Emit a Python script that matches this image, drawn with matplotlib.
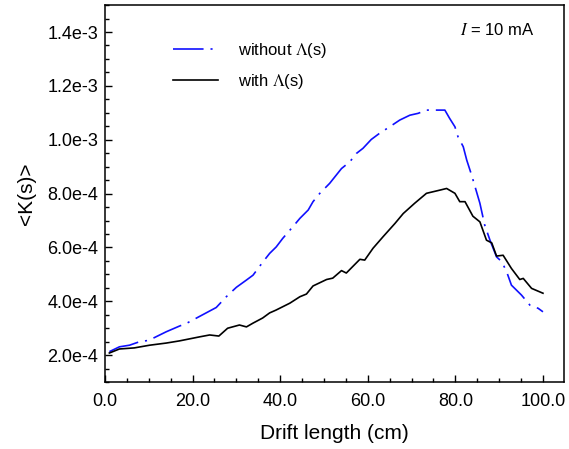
import matplotlib
matplotlib.use("Agg")
import matplotlib.pyplot as plt
from matplotlib.ticker import MultipleLocator, FormatStrFormatter

plt.rcParams['font.family'] = ['Liberation Sans', 'DejaVu Sans']
plt.rcParams['mathtext.fontset'] = 'stix'
plt.rcParams['lines.scale_dashes'] = False

# without Lambda(s) - blue dash-dot
x_without = [1.0, 3.3, 5.6, 7.9, 10.0, 12.5, 14.0, 17.0, 18.6, 20.8, 23.1, 25.4, 27.7,
             30.0, 32.3, 33.8, 36.1, 37.6, 39.1, 40.6, 42.9, 44.5, 46.4, 47.5, 49.0,
             51.3, 54.0, 55.9, 57.4, 58.9, 60.8, 62.7, 65.0, 67.3, 69.6, 71.5, 73.4,
             77.6, 78.7, 79.9, 80.6, 81.8, 82.6, 83.7, 84.5, 85.6, 86.7, 87.9, 89.4,
             90.6, 91.7, 92.8, 95.1, 97.0, 98.9, 100.0]
k_without = [2.13e-4, 2.31e-4, 2.37e-4, 2.50e-4, 2.55e-4, 2.75e-4, 2.87e-4, 3.08e-4,
             3.18e-4, 3.37e-4, 3.57e-4, 3.77e-4, 4.17e-4, 4.52e-4, 4.79e-4, 4.97e-4,
             5.47e-4, 5.78e-4, 6.02e-4, 6.34e-4, 6.77e-4, 7.08e-4, 7.39e-4, 7.70e-4,
             8.00e-4, 8.38e-4, 8.93e-4, 9.18e-4, 9.49e-4, 9.68e-4, 1.001e-3, 1.024e-3,
             1.048e-3, 1.073e-3, 1.091e-3, 1.098e-3, 1.110e-3, 1.110e-3, 1.079e-3,
             1.048e-3, 1.011e-3, 9.74e-4, 9.24e-4, 8.69e-4, 8.25e-4, 7.64e-4, 6.83e-4,
             6.27e-4, 5.65e-4, 5.47e-4, 5.10e-4, 4.60e-4, 4.23e-4, 3.86e-4, 3.74e-4,
             3.61e-4]

# with Lambda(s) - black solid
x_with = [1.0, 3.3, 6.7, 10.2, 14.0, 17.0, 21.6, 23.9, 26.0, 28.0, 30.7, 32.3, 33.8,
          36.0, 37.6, 39.0, 42.2, 44.5, 46.0, 47.5, 50.6, 52.0, 54.0, 55.1, 58.2, 59.3,
          61.2, 63.5, 66.2, 68.1, 70.7, 73.4, 76.5, 78.0, 79.9, 81.0, 82.2, 84.0, 85.6,
          87.1, 88.3, 89.4, 90.9, 92.8, 94.7, 95.5, 97.4, 100.0]
k_with = [2.08e-4, 2.23e-4, 2.27e-4, 2.37e-4, 2.45e-4, 2.53e-4, 2.68e-4, 2.75e-4,
          2.71e-4, 3.00e-4, 3.12e-4, 3.05e-4, 3.19e-4, 3.38e-4, 3.57e-4, 3.67e-4,
          3.93e-4, 4.17e-4, 4.27e-4, 4.57e-4, 4.81e-4, 4.86e-4, 5.14e-4, 5.05e-4,
          5.56e-4, 5.53e-4, 5.97e-4, 6.40e-4, 6.89e-4, 7.26e-4, 7.64e-4, 8.01e-4,
          8.13e-4, 8.19e-4, 8.01e-4, 7.70e-4, 7.70e-4, 7.16e-4, 6.95e-4, 6.27e-4,
          6.17e-4, 5.68e-4, 5.71e-4, 5.22e-4, 4.81e-4, 4.85e-4, 4.48e-4, 4.30e-4]

fig = plt.figure(figsize=(5.69, 4.49), dpi=100)
ax = fig.add_axes([0.1845, 0.149, 0.8067, 0.8397])

ax.plot(x_without, k_without, color='#1010ff', lw=1.2, dashes=[22, 5, 1.5, 5],
        label=r'without $\Lambda$(s)')
ax.plot(x_with, k_with, color='black', lw=1.2, label=r'with $\Lambda$(s)')

ax.set_xlim(0, 104.8)
ax.set_ylim(1e-4, 1.5e-3)
ax.xaxis.set_major_locator(MultipleLocator(20))
ax.xaxis.set_minor_locator(MultipleLocator(5))
ax.yaxis.set_major_locator(MultipleLocator(2e-4))
ax.yaxis.set_minor_locator(MultipleLocator(5e-5))
ax.xaxis.set_major_formatter(FormatStrFormatter('%.1f'))
ax.yaxis.set_major_formatter(plt.FuncFormatter(
    lambda v, p: f"{v:.1e}".replace("e-0", "e-")))
ax.tick_params(which='major', direction='in', length=5, width=1, labelsize=13)
ax.tick_params(axis='x', which='major', pad=8)
ax.tick_params(axis='y', which='major', pad=5)
ax.tick_params(which='minor', direction='in', length=3, width=1)
ax.tick_params(top=False, right=False)
for s in ax.spines.values():
    s.set_linewidth(1.1)

ax.set_xlabel('Drift length (cm)', fontsize=15, labelpad=10)
ax.set_ylabel('<K(s)>', fontsize=15, labelpad=8)

ax.legend(loc='upper left', bbox_to_anchor=(0.115, 0.945), frameon=False, fontsize=12,
          handlelength=2.7, handletextpad=1.2, labelspacing=0.75)
ax.text(0.937, 0.955, r'$I$ = 10 mA', transform=ax.transAxes, ha='right', va='top',
        fontsize=12)

fig.savefig('out.png', dpi=100)
